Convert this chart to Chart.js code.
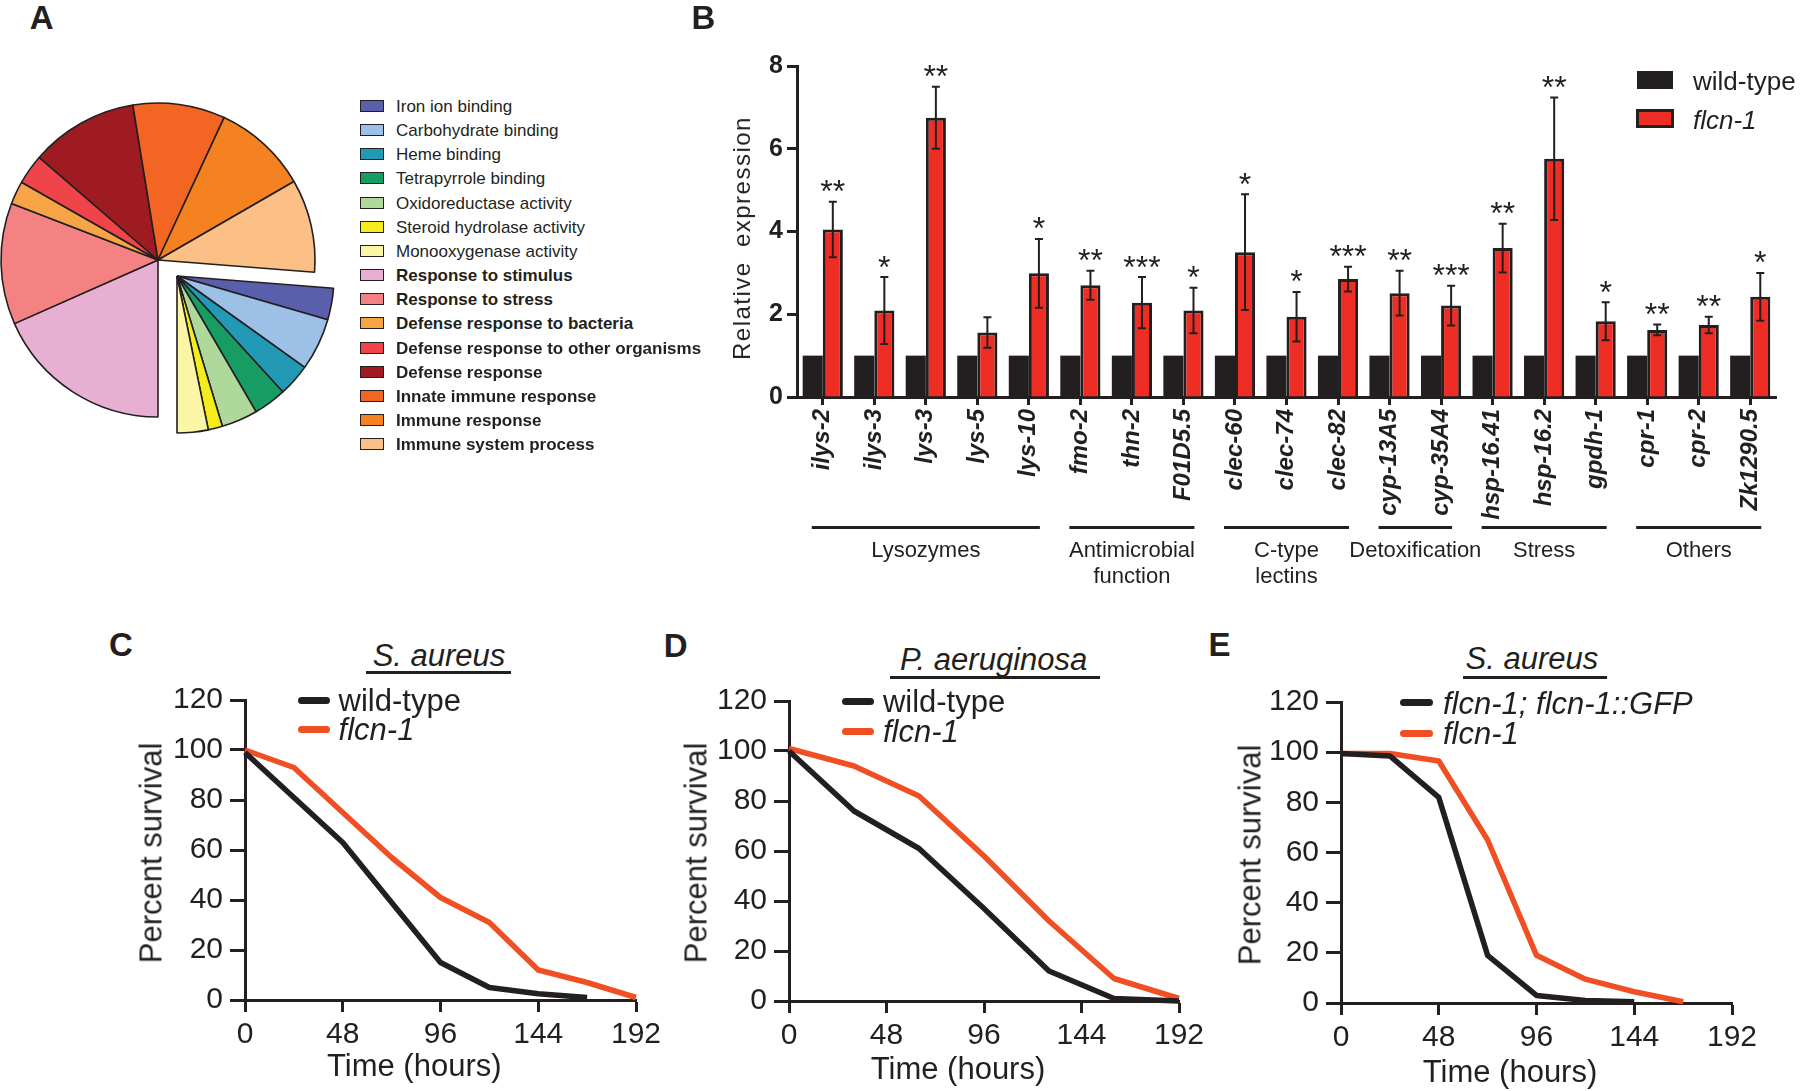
<!DOCTYPE html>
<html>
<head>
<meta charset="utf-8">
<title>flcn-1 immunity figure</title>
<script src="https://cdn.jsdelivr.net/npm/chart.js@4.4.1/dist/chart.umd.min.js"></script>
<style>
  html, body { margin: 0; padding: 0; background: #fff; }
  #page { position: relative; width: 1800px; height: 1091px; overflow: hidden; background: #fff;
          font-family: "Liberation Sans", Arial, Helvetica, sans-serif; color: #231f20; }
  #page canvas { position: absolute; }
  .t { position: absolute; line-height: 1; white-space: nowrap; transform: translate(-50%, -50%); }
  .l { position: absolute; line-height: 1; white-space: nowrap; transform: translate(0, -50%); }
  .box { position: absolute; box-sizing: border-box; }
</style>
</head>
<body>
<div id="page">
  <canvas id="pieA" width="320" height="320" style="left:-2px;top:100px"></canvas>
  <canvas id="pieA2" width="320" height="320" style="left:17px;top:116px"></canvas>
  <canvas id="barB" width="1100" height="600" style="left:700px;top:0px"></canvas>
  <canvas id="survC"></canvas>
  <canvas id="survD"></canvas>
  <canvas id="survE"></canvas>
</div>
<script>
const ink = '#231f20';
const barRed = '#ee2e24';
const lineRed = '#f04e23';
const FONT = '"Liberation Sans", Arial, Helvetica, sans-serif';

// ---- A: GO terms, slice size (degrees) ----
const goTerms = ['Iron ion binding', 'Carbohydrate binding', 'Heme binding', 'Tetrapyrrole binding',
  'Oxidoreductase activity', 'Steroid hydrolase activity', 'Monooxygenase activity',
  'Response to stimulus', 'Response to stress', 'Defense response to bacteria',
  'Defense response to other organisms', 'Defense response', 'Innate immune response',
  'Immune response', 'Immune system process'];
const goShare = [11.7, 19.4, 12.0, 12.2, 13.4, 5.3, 11.5, 66.1, 45.0, 8.6, 11.1, 40.0, 34.1, 35.1, 34.5];
const goColors = ['#5a5fab', '#9cc0e6', '#229ab5', '#179c64', '#afd89b', '#f4ec1c', '#fbf5a6',
  '#e7afd1', '#f48283', '#f7a446', '#ef4449', '#9e1c21', '#f26522', '#f58221', '#fcc086'];
const goMolecular = 7; // first 7 = molecular function (pulled out wedge)

// ---- B: qPCR ----
const genes = ['ilys-2', 'ilys-3', 'lys-3', 'lys-5', 'lys-10', 'fmo-2', 'thn-2', 'F01D5.5', 'clec-60',
  'clec-74', 'clec-82', 'cyp-13A5', 'cyp-35A4', 'hsp-16.41', 'hsp-16.2', 'gpdh-1', 'cpr-1', 'cpr-2', 'Zk1290.5'];
const wildExpr = [1, 1, 1, 1, 1, 1, 1, 1, 1, 1, 1, 1, 1, 1, 1, 1, 1, 1, 1];
const flcnExpr = [4.05, 2.09, 6.75, 1.56, 2.99, 2.70, 2.28, 2.09, 3.50, 1.94, 2.85, 2.51, 2.21, 3.60, 5.76, 1.83, 1.62, 1.74, 2.42];
const flcnErr = [0.67, 0.81, 0.75, 0.37, 0.83, 0.35, 0.62, 0.55, 1.40, 0.60, 0.30, 0.54, 0.48, 0.59, 1.48, 0.46, 0.13, 0.20, 0.58];
const stars = ['**', '*', '**', '', '*', '**', '***', '*', '*', '*', '***', '**', '***', '**', '**', '*', '**', '**', '*'];
const exprTicks = [0, 2, 4, 6, 8];
const groupNames = [['Lysozymes'], ['Antimicrobial', 'function'], ['C-type', 'lectins'], ['Detoxification'], ['Stress'], ['Others']];
const groupFirst = [0, 5, 8, 11, 13, 16];
const groupLast = [4, 7, 10, 12, 15, 18];

// ---- C, D, E: survival ----
const timeC = [0, 24, 48, 72, 96, 120, 144, 168, 192];
const wildC = [99, 81, 63, 39, 15, 5, 2.5, 1];
const flcnC = [100, 93, 75, 57, 41, 31, 12, 7, 1];
const timeD = [0, 32, 64, 96, 128, 160, 192];
const wildD = [100, 76, 61, 37, 12, 1, 0];
const flcnD = [101, 94, 82, 58, 32, 9, 1];
const timeE = [0, 24, 48, 72, 96, 120, 144, 168];
const rescueE = [99.5, 98.5, 82, 19, 3, 1, 0.5];
const flcnE = [99.5, 99.5, 96.5, 65, 19, 9.5, 4.5, 0.5];
const hourTicks = [0, 48, 96, 144, 192];
const pctTicks = [0, 20, 40, 60, 80, 100, 120];

Chart.defaults.font.family = FONT;
Chart.defaults.color = ink;

const page = document.getElementById('page');
function put(cls, str, x, y, css) {
  const d = document.createElement('div');
  d.className = cls;
  d.textContent = str;
  d.style.left = x + 'px';
  d.style.top = y + 'px';
  Object.assign(d.style, css || {});
  page.appendChild(d);
  return d;
}
function rect(x, y, w, h, css) {
  const d = document.createElement('div');
  d.className = 'box';
  Object.assign(d.style, { left: x + 'px', top: y + 'px', width: w + 'px', height: h + 'px' }, css || {});
  page.appendChild(d);
  return d;
}
const rotated = { transform: 'translate(-50%, -50%) rotate(-90deg)' };
const letter = { fontSize: '33px', fontWeight: 'bold' };

// ================= A =================
function drawPie(id, pulled) {
  const on = goShare.map((v, i) => (i < goMolecular) === pulled);
  new Chart(document.getElementById(id), {
    type: 'pie',
    data: {
      labels: goTerms,
      datasets: [{
        data: goShare,
        backgroundColor: goColors.map((c, i) => on[i] ? c : 'rgba(0,0,0,0)'),
        borderColor: ink,
        borderWidth: on.map(o => o ? 1.6 : 0)
      }]
    },
    options: {
      responsive: false, animation: false, rotation: 94.5, radius: 157,
      plugins: { legend: { display: false }, tooltip: { enabled: false } }
    }
  });
}
drawPie('pieA', false);
drawPie('pieA2', true);

goTerms.forEach((term, i) => {
  const y = 106 + i * 24.15;
  rect(359.5, y - 6, 24, 12, { background: goColors[i], border: '1px solid ' + ink });
  put('l', term, 396, y, { fontSize: '17px', fontWeight: i >= goMolecular ? 'bold' : 'normal' });
});
put('t', 'A', 41.7, 16.7, letter);

// ================= B =================
const errorBars = {
  id: 'errorBars',
  afterDatasetsDraw(chart) {
    const y = chart.scales.y, ctx = chart.ctx;
    const meta = chart.getDatasetMeta(1);
    ctx.save();
    ctx.strokeStyle = ink;
    ctx.fillStyle = ink;
    ctx.lineWidth = 2;
    ctx.font = '32px ' + FONT;
    ctx.textAlign = 'center';
    ctx.textBaseline = 'alphabetic';
    meta.data.forEach((bar, i) => {
      const top = y.getPixelForValue(flcnExpr[i] + flcnErr[i]);
      const bot = y.getPixelForValue(flcnExpr[i] - flcnErr[i]);
      ctx.beginPath();
      ctx.moveTo(bar.x, top); ctx.lineTo(bar.x, bot);
      ctx.moveTo(bar.x - 4, top); ctx.lineTo(bar.x + 4, top);
      ctx.moveTo(bar.x - 4, bot); ctx.lineTo(bar.x + 4, bot);
      ctx.stroke();
      if (stars[i]) ctx.fillText(stars[i], bar.x, top - 18 + 18.5);
    });
    ctx.restore();
  }
};

const groupAxis = {
  id: 'groupAxis',
  afterDraw(chart) {
    const x = chart.scales.x, ctx = chart.ctx;
    ctx.save();
    ctx.strokeStyle = ink;
    ctx.fillStyle = ink;
    ctx.lineWidth = 3;
    ctx.font = '22px ' + FONT;
    ctx.textAlign = 'center';
    ctx.textBaseline = 'middle';
    groupNames.forEach((lines, g) => {
      const x1 = x.getPixelForValue(groupFirst[g]) - 11;
      const x2 = x.getPixelForValue(groupLast[g]) + 11;
      ctx.beginPath();
      ctx.moveTo(x1, 527.5); ctx.lineTo(x2, 527.5);
      ctx.stroke();
      lines.forEach((s, k) => ctx.fillText(s, (x1 + x2) / 2, 551 + k * 26));
    });
    ctx.restore();
  }
};

new Chart(document.getElementById('barB'), {
  type: 'bar',
  data: {
    labels: genes,
    datasets: [
      { label: 'wild-type', data: wildExpr, backgroundColor: ink, borderWidth: 0 },
      { label: 'flcn-1', data: flcnExpr, backgroundColor: barRed, borderColor: ink, borderWidth: 3 }
    ]
  },
  options: {
    responsive: false, animation: false,
    datasets: { bar: { categoryPercentage: 0.78, barPercentage: 1 } },
    layout: { padding: { left: 0, top: 66, right: 24, bottom: 0 } },
    scales: {
      x: {
        grid: { offset: false, drawOnChartArea: false, tickLength: 8, tickWidth: 3, tickColor: ink },
        border: { width: 3, color: ink },
        ticks: { autoSkip: false, minRotation: 90, maxRotation: 90, padding: 4, color: ink,
                 font: { size: 24, weight: 'bold', style: 'italic' } },
        afterFit: s => { s.height = 203; s.paddingLeft = 0; s.paddingRight = 0; }
      },
      y: {
        min: 0, max: 8,
        afterBuildTicks: s => { s.ticks = exprTicks.map(v => ({ value: v })); },
        grid: { drawOnChartArea: false, tickLength: 10, tickWidth: 3, tickColor: ink },
        border: { width: 3, color: ink },
        ticks: { padding: 4, color: ink, font: { size: 25, weight: 'bold' } },
        afterFit: s => { s.width = 97; s.paddingTop = 0; s.paddingBottom = 0; }
      }
    },
    plugins: { legend: { display: false }, tooltip: { enabled: false } }
  },
  plugins: [errorBars, groupAxis]
});

put('t', 'B', 703.5, 17, letter);
put('t', 'Relative expression', 742, 238, Object.assign({ fontSize: '24px', letterSpacing: '1.5px', wordSpacing: '6px' }, rotated));
rect(1637, 71, 36, 18, { background: ink });
rect(1636, 109, 38, 19, { background: barRed, border: '3px solid ' + ink });
put('l', 'wild-type', 1693, 80.5, { fontSize: '26px' });
put('l', 'flcn-1', 1693, 119.5, { fontSize: '26px', fontStyle: 'italic' });

// ================= C, D, E =================
function survival(id, area, series) {
  const cv = document.getElementById(id);
  const yW = 145, padTop = 20, padRight = 30;
  const left = area.L - yW, top = area.T - padTop;
  cv.width = yW + (area.R - area.L) + padRight;
  cv.height = 1091 - top;
  cv.style.left = left + 'px';
  cv.style.top = top + 'px';
  const xH = cv.height - padTop - (area.B - area.T);
  new Chart(cv, {
    type: 'line',
    data: {
      datasets: series.map(s => ({
        data: s.y.map((v, i) => ({ x: s.x[i], y: v })),
        borderColor: s.color, borderWidth: 5.5, pointRadius: 0, tension: 0,
        clip: false, borderJoinStyle: 'round'
      }))
    },
    options: {
      responsive: false, animation: false,
      layout: { padding: { left: 0, top: padTop, right: padRight, bottom: 0 } },
      scales: {
        x: {
          type: 'linear', min: 0, max: 192,
          afterBuildTicks: s => { s.ticks = hourTicks.map(v => ({ value: v })); },
          grid: { drawOnChartArea: false, tickLength: 12, tickWidth: 3, tickColor: ink },
          border: { width: 3, color: ink },
          ticks: { font: { size: 30 }, padding: 5, maxRotation: 0, color: ink },
          afterFit: s => { s.height = xH; s.paddingLeft = 0; s.paddingRight = 0; }
        },
        y: {
          min: 0, max: 120,
          afterBuildTicks: s => { s.ticks = pctTicks.map(v => ({ value: v })); },
          grid: { drawOnChartArea: false, tickLength: 15, tickWidth: 3, tickColor: ink },
          border: { width: 3, color: ink },
          ticks: { font: { size: 30 }, padding: 7, color: ink },
          afterFit: s => { s.width = yW; s.paddingTop = 0; s.paddingBottom = 0; }
        }
      },
      plugins: { legend: { display: false }, tooltip: { enabled: false } }
    }
  });
}

function lineKey(x1, x2, y, color, str, tx, italic) {
  rect(x1, y - 3.5, x2 - x1, 7, { background: color, borderRadius: '3.5px' });
  put('l', str, tx, y, { fontSize: '31px', fontStyle: italic ? 'italic' : 'normal' });
}
function speciesTitle(str, cx, cy, x1, x2, uy) {
  put('t', str, cx, cy, { fontSize: '31px', fontStyle: 'italic' });
  rect(x1, uy - 1.5, x2 - x1, 3, { background: ink });
}

survival('survC', { L: 245, R: 636, T: 700, B: 1000 }, [
  { x: timeC, y: wildC, color: ink },
  { x: timeC, y: flcnC, color: lineRed }
]);
put('t', 'C', 120.8, 644.2, letter);
speciesTitle('S. aureus', 439, 655, 366, 511, 672.7);
lineKey(298, 330, 700, ink, 'wild-type', 338.6, false);
lineKey(298, 330, 729.3, lineRed, 'flcn-1', 338.6, true);
put('t', 'Percent survival', 151, 852.5, Object.assign({ fontSize: '31px' }, rotated));
put('t', 'Time (hours)', 414.3, 1065, { fontSize: '31px' });

survival('survD', { L: 789, R: 1179, T: 701, B: 1001 }, [
  { x: timeD, y: wildD, color: ink },
  { x: timeD, y: flcnD, color: lineRed }
]);
put('t', 'D', 675.7, 644.5, letter);
speciesTitle('P. aeruginosa', 993.6, 659.4, 890, 1100, 677.7);
lineKey(841.8, 873.9, 701, ink, 'wild-type', 882.9, false);
lineKey(841.8, 873.9, 731, lineRed, 'flcn-1', 882.9, true);
put('t', 'Percent survival', 696.3, 853.3, Object.assign({ fontSize: '31px' }, rotated));
put('t', 'Time (hours)', 958, 1067.5, { fontSize: '31px' });

survival('survE', { L: 1341, R: 1732, T: 702, B: 1003 }, [
  { x: timeE, y: rescueE, color: ink },
  { x: timeE, y: flcnE, color: lineRed }
]);
put('t', 'E', 1219.5, 644, letter);
speciesTitle('S. aureus', 1531.9, 658.3, 1462.7, 1607, 677.7);
lineKey(1399.5, 1433, 702.7, ink, 'flcn-1; flcn-1::GFP', 1443, true);
lineKey(1399.5, 1433, 733.3, lineRed, 'flcn-1', 1443, true);
put('t', 'Percent survival', 1250.3, 855, Object.assign({ fontSize: '31px' }, rotated));
put('t', 'Time (hours)', 1510, 1070.5, { fontSize: '31px' });
</script>
</body>
</html>
